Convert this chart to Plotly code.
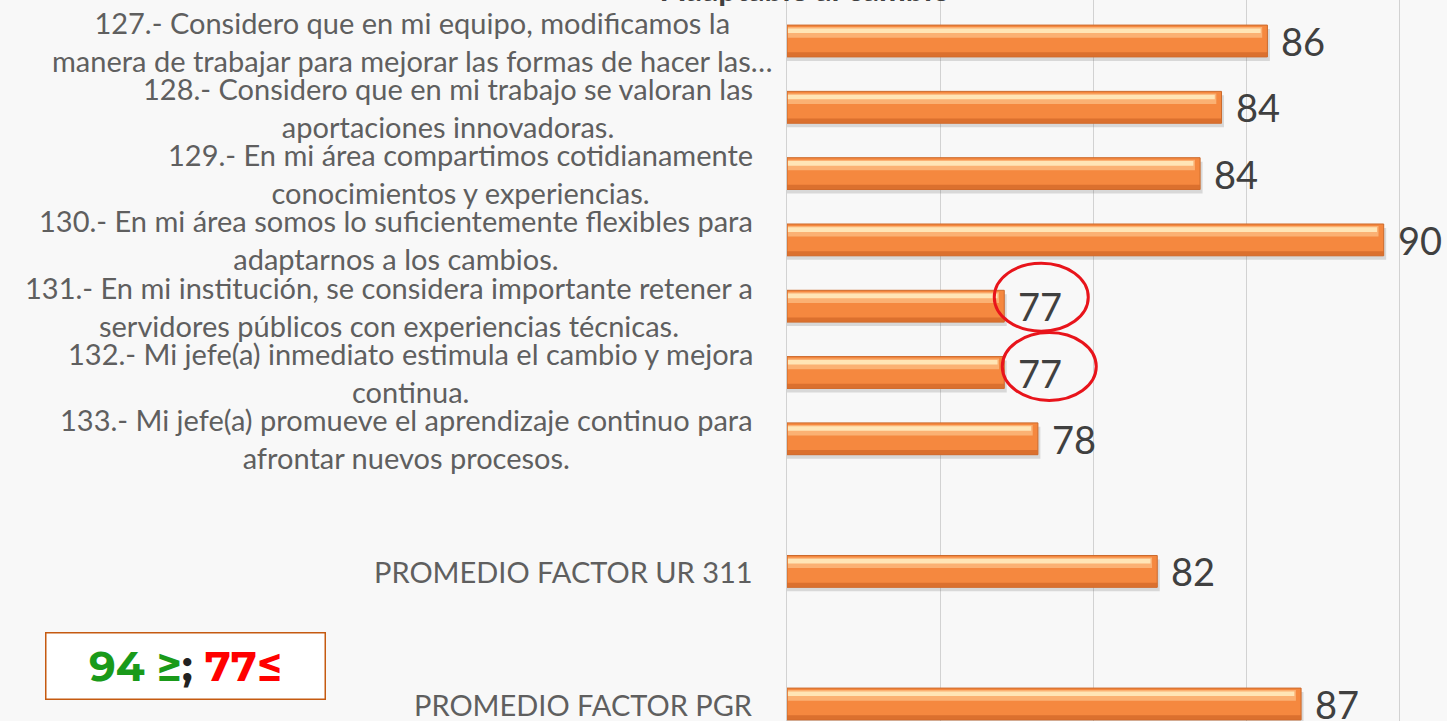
import plotly.graph_objects as go

# ---- data ----
categories = [
    "127.- Considero que en mi equipo, modificamos la<br>manera de trabajar para mejorar las formas de hacer las…",
    "128.- Considero que en mi trabajo se valoran las<br>aportaciones innovadoras.",
    "129.- En mi área compartimos cotidianamente<br>conocimientos y experiencias.",
    "130.- En mi área somos lo suficientemente flexibles para<br>adaptarnos a los cambios.",
    "131.- En mi institución, se considera importante retener a<br>servidores públicos con experiencias técnicas.",
    "132.- Mi jefe(a) inmediato estimula el cambio y mejora<br>continua.",
    "133.- Mi jefe(a) promueve el aprendizaje continuo para<br>afrontar nuevos procesos.",
    "",
    "PROMEDIO FACTOR UR 311",
    "",
    "PROMEDIO FACTOR PGR",
]
values = [85.7, 84.2, 83.5, 89.5, 77.1, 77.1, 78.2, None, 82.1, None, 86.8]
value_labels = ["86", "84", "84", "90", "77", "77", "78", "", "82", "", "87"]
highlighted = [4, 5]  # circled items (low scores)
legend_text = ("<b><span style='color:#1a9a1a'>94 ≥</span><span style='color:#222222'>;</span> "
               "<span style='color:#ff0000'>77≤</span></b>")
title_text = "Adaptable al cambio"

BASE = 70
pos = list(range(len(categories)))
lengths = [v - BASE if v is not None else None for v in values]

W, H = 1447, 721
LEFT = 787
BAR_W = 0.48

fig = go.Figure()

# shadow
fig.add_trace(go.Bar(
    y=pos, x=[l + 0.08 if l is not None else None for l in lengths], base=BASE, orientation="h",
    width=BAR_W, offset=-BAR_W / 2 + 0.06,
    marker=dict(color="rgba(90,90,90,0.20)", line=dict(width=0)),
    hoverinfo="skip", showlegend=False,
))
# main bar
fig.add_trace(go.Bar(
    y=pos, x=lengths, base=BASE, orientation="h",
    width=BAR_W, offset=-BAR_W / 2,
    marker=dict(color="#F5883F", line=dict(color="#CC6A2C", width=1)),
    showlegend=False,
))
# upper light band
fig.add_trace(go.Bar(
    y=pos, x=[l - 0.2 if l is not None else None for l in lengths], base=BASE + 0.03, orientation="h",
    width=0.16, offset=-BAR_W / 2 + 0.03,
    marker=dict(color="rgba(252,185,125,0.85)", line=dict(width=0)),
    hoverinfo="skip", showlegend=False,
))
# top highlight
fig.add_trace(go.Bar(
    y=pos, x=[l - 0.25 if l is not None else None for l in lengths], base=BASE + 0.03, orientation="h",
    width=0.07, offset=-BAR_W / 2 + 0.05,
    marker=dict(color="rgba(255,232,185,0.95)", line=dict(width=0)),
    hoverinfo="skip", showlegend=False,
))
# bottom darker band
fig.add_trace(go.Bar(
    y=pos, x=lengths, base=BASE, orientation="h",
    width=0.07, offset=BAR_W / 2 - 0.07,
    marker=dict(color="rgba(212,106,42,0.8)", line=dict(width=0)),
    hoverinfo="skip", showlegend=False,
))

annotations = []
# category labels
for i, c in enumerate(categories):
    if not c:
        continue
    annotations.append(dict(
        x=0, xref="paper", y=i, yref="y", xanchor="right", yanchor="middle",
        xshift=-12 if i == 0 else -32, text=c, showarrow=False, align="center",
        font=dict(family="Lato, Open Sans, sans-serif", size=29, color="#5f5f5f"),
    ))
# value labels
for i, (v, lab) in enumerate(zip(values, value_labels)):
    if v is None:
        continue
    annotations.append(dict(
        x=v, xref="x", y=i, yref="y", xanchor="left", yanchor="middle", xshift=12,
        text=lab, showarrow=False,
        font=dict(family="Lato, Open Sans, sans-serif", size=38, color="#404040"),
    ))
# threshold box
annotations.append(dict(
    x=(185 - LEFT) / (W - LEFT), xref="paper", y=1 - 665.5 / H, yref="paper",
    xanchor="center", yanchor="middle", text=legend_text, showarrow=False,
    width=276, height=63, bordercolor="#C55A11", borderwidth=1.5, bgcolor="rgba(255,255,255,0.9)",
    font=dict(family="Montserrat, Lato, Open Sans, sans-serif", size=42),
))
# cut-off title
annotations.append(dict(
    x=(805 - LEFT) / (W - LEFT), xref="paper", y=1, yref="paper", xanchor="center", yanchor="bottom",
    yshift=-10, text="<b>" + title_text + "</b>", showarrow=False,
    font=dict(family="Lato, Open Sans, sans-serif", size=32, color="#404040"),
))

shapes = []
circle_offsets = {4: (-10, 84, -25, 43), 5: (-2, 92, -28, 40)}
for i in highlighted:
    x0, x1, y0, y1 = circle_offsets[i]
    shapes.append(dict(
        type="circle", xref="x", yref="y", xsizemode="pixel", ysizemode="pixel",
        xanchor=values[i], yanchor=i, x0=x0, x1=x1, y0=y0, y1=y1,
        line=dict(color="#E8141B", width=3), fillcolor="rgba(0,0,0,0)",
    ))

span = (W - LEFT) / 30.6
fig.update_layout(
    width=W, height=H,
    margin=dict(l=LEFT, r=0, t=0, b=0),
    paper_bgcolor="#f8f8f8", plot_bgcolor="rgba(0,0,0,0)",
    barmode="overlay",
    xaxis=dict(range=[BASE, BASE + span], dtick=5, tick0=BASE, showgrid=True, gridcolor="#d2d2d2",
               gridwidth=1, zeroline=False, showticklabels=False, ticks=""),
    yaxis=dict(range=[(H - 41) / 66.3, -41 / 66.3], showgrid=False, zeroline=False,
               showticklabels=False, showline=True, linecolor="#d2d2d2", linewidth=1, ticks=""),
    annotations=annotations, shapes=shapes,
    showlegend=False,
)

fig.write_html("out.html", config={"displayModeBar": False},
               post_script="document.body.style.margin='0';")
